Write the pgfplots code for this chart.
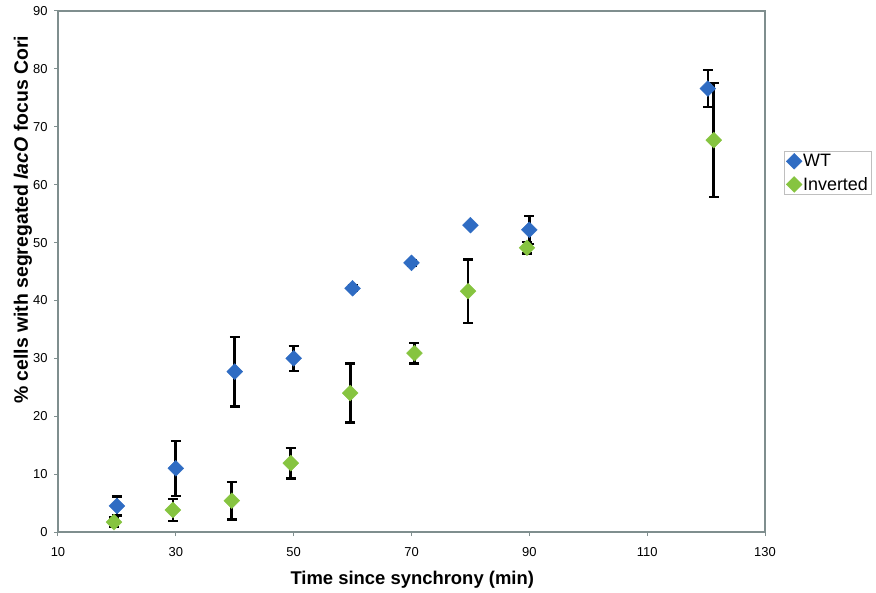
\documentclass[border=0pt]{standalone}
\usepackage{pgfplots}
\pgfplotsset{compat=1.18}
\usepackage{fontspec}
\setmainfont{Liberation Sans}
\definecolor{wtblue}{HTML}{2F6CC3}
\definecolor{invgreen}{HTML}{86C440}
\definecolor{framegray}{HTML}{7F8E8E}
\begin{document}
\begin{tikzpicture}
\useasboundingbox (-58bp,-61bp) rectangle (818bp,532bp);
\begin{axis}[
  at={(0,0)}, anchor=south west,
  scale only axis, width=707bp, height=521bp,
  xmin=10, xmax=130, ymin=0, ymax=90,
  xtick={10,30,...,130}, ytick={0,10,...,90},
  axis line style={framegray, line width=1.6bp},
  tick style={framegray, line width=1bp},
  tick align=outside, major tick length=4bp,
  xtick pos=bottom, ytick pos=left,
  /pgf/number format/assume math mode=true,
  ticklabel style={font=\fontsize{13}{14}\selectfont},
  xticklabel style={yshift=-8bp},
  yticklabel style={xshift=-3bp},
  xlabel={\bfseries Time since synchrony (min)},
  xlabel style={font=\fontsize{18.5}{20}\selectfont, at={(axis description cs:0.501,0)}, anchor=base, yshift=-52bp},
  ylabel={\bfseries \% cells with segregated \textit{lacO} focus Cori},
  ylabel style={font=\fontsize{19.5}{21}\selectfont, at={(axis description cs:0,0.599)}, anchor=center, yshift=35bp, inner sep=0pt},
  legend style={at={(rel axis cs:1.027,0.731)}, anchor=north west, draw=gray!50, font=\fontsize{18}{20}\selectfont, inner sep=2bp, row sep=7bp, nodes={inner sep=1bp}},
  legend cell align=left,
  error bars/y dir=both, error bars/y explicit,
  error bars/error bar style={black, line width=2.7bp},
  error bars/error mark options={rotate=90, mark size=5bp, line width=2.4bp, black},
]
\addplot+[only marks, mark=square*, mark size=5.6bp, mark options={rotate=45, fill=wtblue, draw=wtblue}]
table[x=x, y=y, y error=e] {
x y e
20 4.5 1.65
30 11.0 4.75
40 27.7 6.0
50 30.0 2.15
60 42.1 0.5
70 46.5 0.5
80 53.0 0
90 52.2 2.4
120.3 76.6 3.2
};
\addlegendentry{WT}
\addplot+[only marks, mark=square*, mark size=5.6bp, mark options={rotate=45, fill=invgreen, draw=invgreen}]
table[x=x, y=y, y error=e] {
x y e
19.5 1.7 0.8
29.5 3.8 1.9
39.5 5.4 3.25
49.5 11.9 2.65
59.6 24.0 5.1
70.5 30.9 1.8
79.6 41.6 5.5
89.6 49.1 1.0
121.3 67.7 9.85
};
\addlegendentry{Inverted}
\end{axis}
\end{tikzpicture}
\end{document}
